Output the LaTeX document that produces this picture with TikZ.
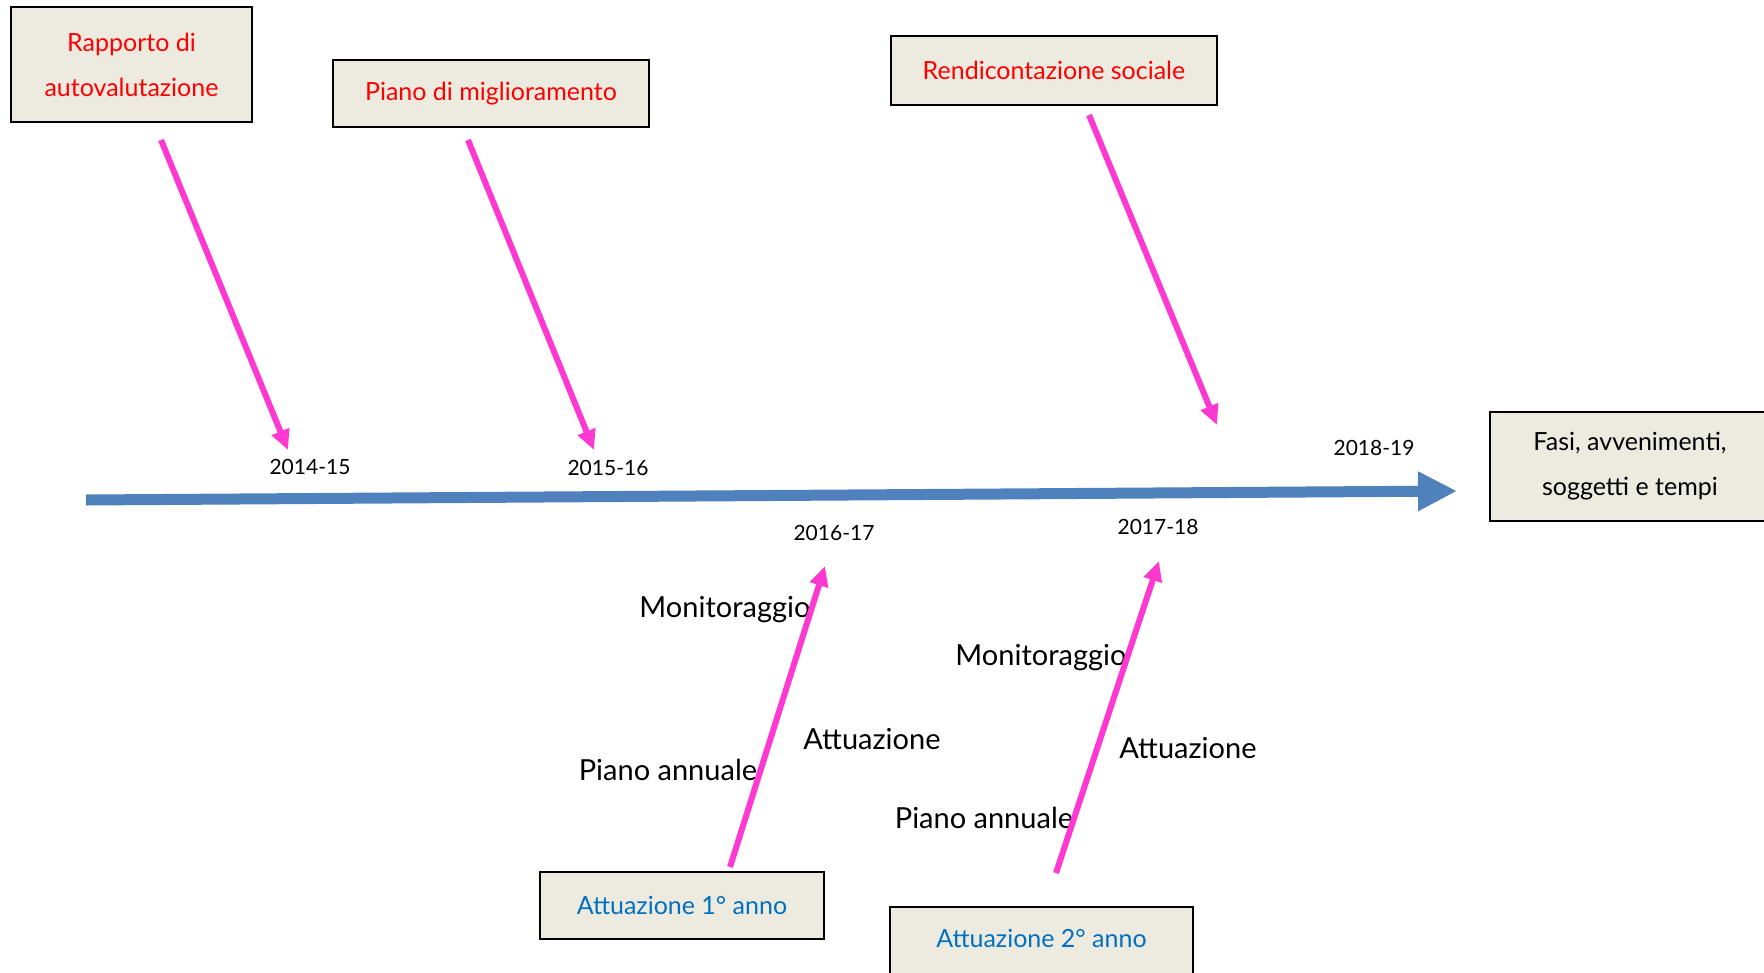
\documentclass[tikz,border=0pt]{standalone}
\usepackage{fontspec}
\setmainfont{Lato}
\usetikzlibrary{arrows.meta}
\definecolor{boxfill}{RGB}{237,234,224}
\definecolor{pinkline}{RGB}{255,56,210}
\definecolor{redtxt}{RGB}{255,0,0}
\definecolor{bluetxt}{RGB}{0,112,192}
\definecolor{axisblue}{RGB}{79,129,189}
\tikzset{
  phasebox/.style={draw=black, line width=1.6pt, fill=boxfill, inner sep=0pt, align=center},
  redlabel/.style={text=redtxt, font=\fontsize{25}{45}\selectfont},
  bluelabel/.style={text=bluetxt, font=\fontsize{25}{30}\selectfont},
  yearlabel/.style={font=\fontsize{21}{25}\selectfont},
  steplabel/.style={font=\fontsize{29}{34}\selectfont},
  pinkarrow/.style={draw=pinkline, line width=6pt, -{Triangle[length=20pt,width=18pt]}},
  timeline/.style={draw=axisblue, line width=11pt, -{Triangle[length=39pt,width=37pt]}}
}
\begin{document}
\begin{tikzpicture}[x=1pt,y=-1pt]
\useasboundingbox (0,0) rectangle (1764,972);

% documents boxes above the timeline
\node[phasebox, redlabel, minimum width=241pt, minimum height=115pt] (rav) at (131.5,64.5) {Rapporto di\\autovalutazione};
\node[phasebox, redlabel, minimum width=316pt, minimum height=67pt] (pdm) at (491,93.5) {Piano di miglioramento};
\node[phasebox, redlabel, minimum width=326pt, minimum height=69pt] (rs) at (1054,70.5) {Rendicontazione sociale};

% legend box on the right
\node[phasebox, font=\fontsize{25}{45}\selectfont, minimum width=280pt, minimum height=109pt] (fasi) at (1630,466.5) {Fasi, avvenimenti,\\soggetti e tempi};

% implementation boxes below the timeline
\node[phasebox, bluelabel, minimum width=284pt, minimum height=67pt] (a1) at (682,905.5) {Attuazione 1° anno};
\node[phasebox, minimum width=303pt, minimum height=84pt, anchor=north] (a2) at (1041.5,906) {};
\node[bluelabel] (a2txt) at ([yshift=-32pt]a2.north) {Attuazione 2° anno};

% timeline
\coordinate (tstart) at (86,500);
\coordinate (tend) at (1457,491);
\draw[timeline] (tstart) -- (tend);

% year labels
\node[yearlabel] (y1) at (310,467) {2014-15};
\node[yearlabel] (y2) at (608,468) {2015-16};
\node[yearlabel] (y3) at (834,533) {2016-17};
\node[yearlabel] (y4) at (1158,527) {2017-18};
\node[yearlabel] (y5) at (1374,448) {2018-19};

% step labels
\node[steplabel] (mon1) at (725,610) {Monitoraggio};
\node[steplabel] (att1) at (872,739) {Attuazione};
\node[steplabel] (pa1) at (668,770) {Piano annuale};
\node[steplabel] (mon2) at (1041,658) {Monitoraggio};
\node[steplabel] (att2) at (1188,748) {Attuazione};
\node[steplabel] (pa2) at (984,818) {Piano annuale};

% pink arrows
\coordinate (p1s) at (161,140);  \coordinate (p1e) at (288,450);
\coordinate (p2s) at (468,140);  \coordinate (p2e) at (594,450);
\coordinate (p3s) at (1089,115); \coordinate (p3e) at (1217,425);
\coordinate (p4s) at (730,867);  \coordinate (p4e) at (825,566);
\coordinate (p5s) at (1056,873); \coordinate (p5e) at (1159,561);
\draw[pinkarrow] (p1s) -- (p1e);
\draw[pinkarrow] (p2s) -- (p2e);
\draw[pinkarrow] (p3s) -- (p3e);
\draw[pinkarrow] (p4s) -- (p4e);
\draw[pinkarrow] (p5s) -- (p5e);
\end{tikzpicture}
\end{document}
